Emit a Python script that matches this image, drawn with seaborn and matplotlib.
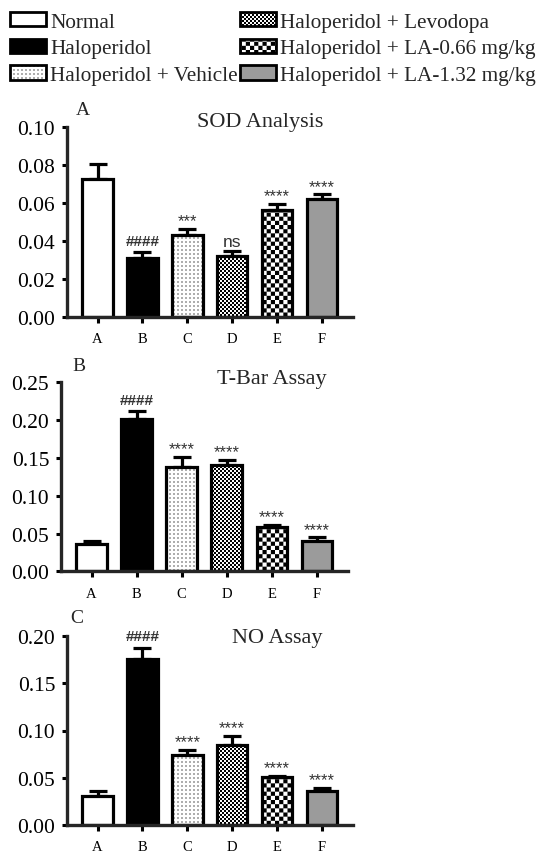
import numpy as np
import matplotlib
matplotlib.use("Agg")
import matplotlib.pyplot as plt
import matplotlib.hatch as mhatch
from matplotlib.path import Path
from matplotlib.patches import Patch
import seaborn as sns

# ---------------- data ----------------
groups = ["A", "B", "C", "D", "E", "F"]
legend_labels = ["Normal", "Haloperidol", "Haloperidol + Vehicle",
                 "Haloperidol + Levodopa", "Haloperidol + LA-0.66 mg/kg",
                 "Haloperidol + LA-1.32 mg/kg"]

sod_mean = [0.0725, 0.0312, 0.0432, 0.0322, 0.0565, 0.0620]
sod_err = [0.0078, 0.0030, 0.0032, 0.0025, 0.0032, 0.0025]
sod_sig = ["", "####", "***", "ns", "****", "****"]

tbar_mean = [0.0355, 0.2010, 0.1378, 0.1400, 0.0592, 0.0400]
tbar_err = [0.0050, 0.0110, 0.0130, 0.0075, 0.0018, 0.0048]
tbar_sig = ["", "####", "****", "****", "****", "****"]

no_mean = [0.0310, 0.1755, 0.0740, 0.0850, 0.0503, 0.0362]
no_err = [0.0052, 0.0122, 0.0058, 0.0092, 0.0018, 0.0030]
no_sig = ["", "####", "****", "****", "****", "****"]

panel_letters = ["A", "B", "C"]
panel_titles = ["SOD Analysis", "T-Bar Assay", "NO Assay"]
ylims = [0.10, 0.25, 0.20]
ysteps = [0.02, 0.05, 0.05]

# ---------------- styles ----------------
face_colors = ["white", "black", "white", "white", "white", "#9b9b9b"]
hatches = [None, None, ".", "o", "O", None]


# custom hatch patterns: filled-square grids (dots / checkerboards)
class _GridSquares(mhatch.HatchPatternBase):
    char = "o"
    cells = 50
    checker = True
    frac = 1.0

    def __init__(self, hatch, density):
        k = hatch.count(self.char)
        self.n = k * self.cells
        if k == 0:
            self.num_vertices = 0
            return
        nsq = (self.n * self.n) // 2 if self.checker else self.n * self.n
        self.num_vertices = nsq * 5

    def set_vertices_and_codes(self, vertices, codes):
        n = self.n
        s = 1.0 / n
        base = np.array([[0, 0], [1, 0], [1, 1], [0, 1], [0, 0]], float)
        parts = []
        for i in range(n):
            for j in range(n):
                if self.checker:
                    if (i + j) % 2:
                        continue
                    parts.append(base * s + [i * s, j * s])
                else:
                    parts.append((base * self.frac + (1 - self.frac) / 2) * s
                                 + [i * s, j * s])
        vertices[:] = np.concatenate(parts)
        codes[:] = np.tile([Path.MOVETO, Path.LINETO, Path.LINETO,
                            Path.LINETO, Path.CLOSEPOLY], len(parts))


class FineChecker(_GridSquares):
    char = "o"
    cells = 50
    checker = True


class CoarseChecker(_GridSquares):
    char = "O"
    cells = 24
    checker = True


class SparseDots(_GridSquares):
    char = "."
    cells = 25
    checker = False
    frac = 0.28


mhatch._hatch_types = [c for c in mhatch._hatch_types
                       if c not in (mhatch.SmallCircles, mhatch.LargeCircles,
                                    mhatch.SmallFilledCircles)]
mhatch._hatch_types += [FineChecker, CoarseChecker, SparseDots]

sns.set_style("ticks")
plt.rcParams["font.family"] = ["Liberation Serif", "DejaVu Serif"]
plt.rcParams["hatch.linewidth"] = 0.01
plt.rcParams["hatch.color"] = "black"

fig = plt.figure(figsize=(5.39, 8.54), dpi=100)
W, H = 539.0, 854.0


def ax_rect(left, right, top, bottom):
    return [left / W, 1 - bottom / H, (right - left) / W, (bottom - top) / H]


rects = [ax_rect(67, 353, 128, 318),
         ax_rect(61, 348, 383.3, 572.3),
         ax_rect(67, 353, 637, 826)]
title_pos = [(0.4545, 1.007), (0.5425, 0.995), (0.576, 0.970)]
letter_pos = [(0.031, 1.068), (0.038, 1.067), (0.0105, 1.076)]

means_all = [sod_mean, tbar_mean, no_mean]
errs_all = [sod_err, tbar_err, no_err]
sigs_all = [sod_sig, tbar_sig, no_sig]

for k in range(3):
    ax = fig.add_axes(rects[k])
    means = means_all[k]
    errs = errs_all[k]
    sns.barplot(x=groups, y=means, hue=groups, palette=face_colors,
                hue_order=groups, order=groups, dodge=False, legend=False,
                width=0.68, edgecolor="black", linewidth=2.3,
                errorbar=None, saturation=1, ax=ax)
    for i, p in enumerate(ax.patches):
        if hatches[i]:
            p.set_hatch(hatches[i])
        p.set_zorder(2)
    ax.errorbar(np.arange(len(groups)), means,
                yerr=[np.zeros(len(groups)), errs], fmt="none",
                ecolor="black", elinewidth=2.3, capsize=6.5, capthick=2.3,
                zorder=1)
    for i, s in enumerate(sigs_all[k]):
        if not s:
            continue
        weight = "normal"
        if s == "ns":
            fs, off = 12.5, 1.5
        elif s.startswith("#"):
            fs, off, weight = 11, 3, "bold"
        else:
            fs, off = 12, 0.5
        ax.annotate(s, (i, means[i] + errs[i]), xytext=(0, off),
                    textcoords="offset points", ha="center", va="bottom",
                    fontsize=fs, color="#333333", fontweight=weight,
                    family=["Liberation Sans", "DejaVu Sans"])

    ax.set_xlim(-0.68, 5.69)
    ax.set_ylim(0, ylims[k])
    ticks = np.arange(0, ylims[k] + 1e-9, ysteps[k])
    ax.set_yticks(ticks)
    ax.set_yticklabels([f"{t:.2f}" for t in ticks], fontsize=15.5)
    ax.set_xticks(range(len(groups)))
    ax.set_xticklabels(groups, fontsize=10.5)
    ax.set_xlabel("")
    ax.set_ylabel("")
    for side in ["top", "right"]:
        ax.spines[side].set_visible(False)
    for side in ["left", "bottom"]:
        ax.spines[side].set_linewidth(2.4)
        ax.spines[side].set_zorder(3)
    ax.tick_params(axis="y", direction="out", length=3.5, width=2.2, pad=5,
                   colors="black")
    ax.tick_params(axis="x", direction="out", length=4, width=2.2, pad=7,
                   colors="black")
    ax.text(title_pos[k][0], title_pos[k][1], panel_titles[k],
            transform=ax.transAxes, ha="left", va="baseline", fontsize=16)
    ax.text(letter_pos[k][0], letter_pos[k][1], panel_letters[k],
            transform=ax.transAxes, ha="left", va="baseline", fontsize=14)

# ---------------- legend ----------------
handles = []
for i in range(len(groups)):
    handles.append(Patch(facecolor=face_colors[i], edgecolor="black",
                         linewidth=2.0, hatch=hatches[i] or "",
                         label=legend_labels[i]))

leg_kw = dict(frameon=False, fontsize=15.3, handlelength=1.68,
              handleheight=0.67, handletextpad=0.2, labelspacing=0.33,
              borderpad=0, borderaxespad=0, loc="upper left")
leg1 = fig.legend(handles=handles[:3], bbox_to_anchor=(10 / W, 1 - 13 / H),
                  **leg_kw)
leg2 = fig.legend(handles=handles[3:], bbox_to_anchor=(240 / W, 1 - 13 / H),
                  **leg_kw)

fig.savefig("out.png", dpi=100)
